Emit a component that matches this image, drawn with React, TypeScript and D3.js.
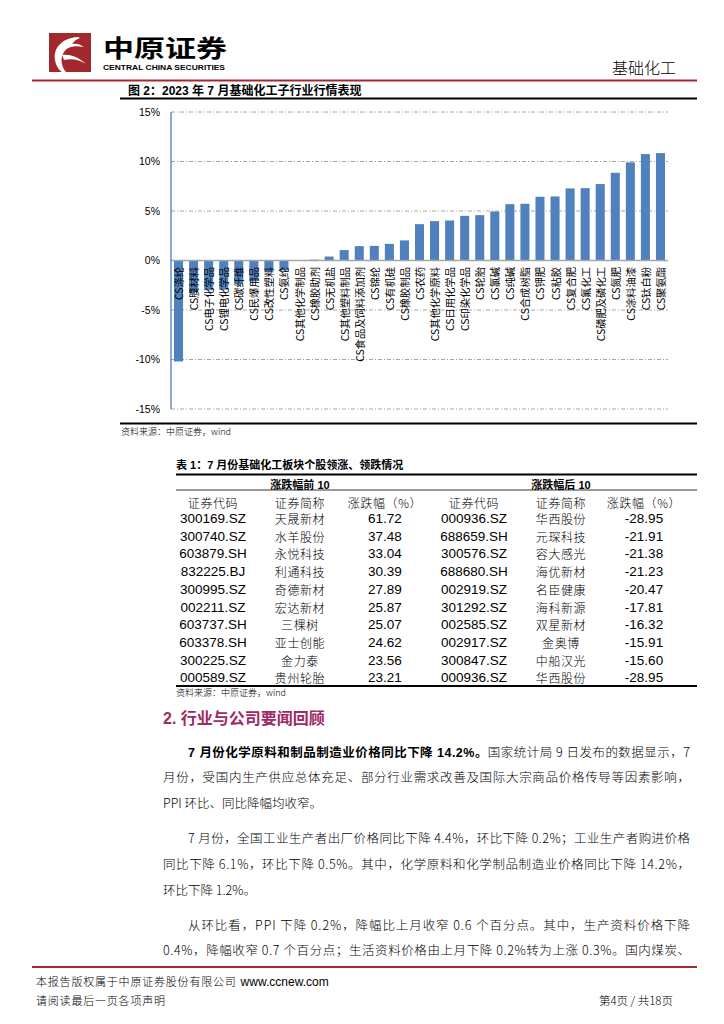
import * as d3 from 'd3';

// 2023年7月基础化工子行业涨跌幅（%）
const categories = [
  'CS涤纶', 'CS膜材料', 'CS电子化学品', 'CS锂电化学品', 'CS碳纤维', 'CS民爆用品', 'CS改性塑料', 'CS氨纶',
  'CS其他化学制品', 'CS橡胶助剂', 'CS无机盐', 'CS其他塑料制品', 'CS食品及饲料添加剂', 'CS锦纶', 'CS有机硅',
  'CS橡胶制品', 'CS农药', 'CS其他化学原料', 'CS日用化学品', 'CS印染化学品', 'CS轮胎', 'CS氯碱', 'CS纯碱',
  'CS合成树脂', 'CS钾肥', 'CS粘胶', 'CS复合肥', 'CS氟化工', 'CS磷肥及磷化工', 'CS氮肥', 'CS涂料油漆',
  'CS钛白粉', 'CS聚氨酯',
];
const changes = [
  -10.2, -3.2, -3.0, -2.95, -2.4, -2.1, -1.2, -1.0,
  0.02, 0.08, 0.4, 1.05, 1.45, 1.48, 1.68,
  2.03, 3.67, 3.98, 4.04, 4.51, 4.58, 4.95, 5.69,
  5.73, 6.44, 6.47, 7.28, 7.31, 7.72, 8.86, 9.91,
  10.75, 10.85,
];
const yTicks = [15, 10, 5, 0, -5, -10, -15];

// 表1
const tableHeaders = ['证券代码', '证券简称', '涨跌幅（%）', '证券代码', '证券简称', '涨跌幅（%）'];
const topCodes = ['300169.SZ', '300740.SZ', '603879.SH', '832225.BJ', '300995.SZ', '002211.SZ', '603737.SH', '603378.SH', '300225.SZ', '000589.SZ'];
const topNames = ['天晟新材', '水羊股份', '永悦科技', '利通科技', '奇德新材', '宏达新材', '三棵树', '亚士创能', '金力泰', '贵州轮胎'];
const topPct = ['61.72', '37.48', '33.04', '30.39', '27.89', '25.87', '25.07', '24.62', '23.56', '23.21'];
const bottomCodes = ['000936.SZ', '688659.SH', '300576.SZ', '688680.SH', '002919.SZ', '301292.SZ', '002585.SZ', '002917.SZ', '300847.SZ', '000936.SZ'];
const bottomNames = ['华西股份', '元琛科技', '容大感光', '海优新材', '名臣健康', '海科新源', '双星新材', '金奥博', '中船汉光', '华西股份'];
const bottomPct = ['-28.95', '-21.91', '-21.38', '-21.23', '-20.47', '-17.81', '-16.32', '-15.91', '-15.60', '-28.95'];

const FONT = '"Liberation Sans", Arial, "Noto Sans CJK SC", sans-serif';
const CJK = '"Noto Sans CJK SC", "Liberation Sans", sans-serif';
const RED = '#a3282e';

function App() {
  const x = d3.scaleBand<string>().domain(categories).range([171, 668]).paddingInner(0.4).paddingOuter(0.2);
  const y = d3.scaleLinear().domain([-15, 15]).range([409, 112]);
  const bw = x.bandwidth();

  const colX = [213, 300, 385, 474, 561, 644];
  const rowY = d3.range(10).map(i => 518.5 + i * 17.7);
  const rows = d3.range(10).map(i => [topCodes[i], topNames[i], topPct[i], bottomCodes[i], bottomNames[i], bottomPct[i]]);

  return (
    <svg width={724} height={1024} style={{ position: 'absolute', left: 0, top: 0, background: '#fff' }}>
      {/* 页眉 */}
      <rect x={49} y={33} width={42} height={39} fill={RED} />
      <path d="M78 37 C62 38 53 48 55 60 C56 66 59 70 62 72 L66 72 C61 66 60 58 64 52 C67 47 74 45 84 47 C80 44 76 43 72 44 C74 41 77 39 80 38 Z" fill="#fff" />
      <path d="M62 55 C70 54 78 57 86 64 C80 60 72 58 64 60 Z" fill="#fff" />
      <text x={103} y={57} fontFamily={CJK} fontWeight={700} fontSize={24} textLength={124} lengthAdjust="spacingAndGlyphs">中原证券</text>
      <text x={103} y={69.5} fontFamily={FONT} fontWeight={700} fontSize={7.5} textLength={122} lengthAdjust="spacingAndGlyphs">CENTRAL CHINA SECURITIES</text>
      <text x={676} y={74} textAnchor="end" fontFamily={CJK} fontWeight={300} fontSize={16}>基础化工</text>
      <line x1={32} x2={697} y1={80.5} y2={80.5} stroke={RED} strokeWidth={2} />

      {/* 图2 */}
      <text x={128} y={95} fontFamily={FONT} fontWeight={700} fontSize={12}>图 2：2023 年 7 月基础化工子行业行情表现</text>
      <line x1={120} x2={697} y1={98.5} y2={98.5} stroke="#000" strokeWidth={2} />

      {yTicks.filter(t => t !== 0).map(t => (
        <line key={t} x1={171} x2={668} y1={y(t)} y2={y(t)} stroke="#a6a6a6" strokeWidth={1} strokeDasharray="4 2 1 2" />
      ))}
      {yTicks.map(t => (
        <text key={t} x={160} y={y(t)} dy="0.35em" textAnchor="end" fontFamily={FONT} fontSize={10.5}>{t}%</text>
      ))}
      {categories.map((c, i) => (
        <rect key={c} x={x(c)} y={y(Math.max(0, changes[i]))} width={bw} height={Math.abs(y(changes[i]) - y(0))} fill="#4f81bd" />
      ))}
      <line x1={171} x2={668} y1={y(0)} y2={y(0)} stroke="#a6a6a6" strokeWidth={1.6} />
      <line x1={171} x2={171} y1={y(15)} y2={y(-15)} stroke="#4a7ebb" strokeWidth={1.3} />
      {categories.map(c => (
        <text key={c} transform={`translate(${(x(c) ?? 0) + bw / 2},267) rotate(-90)`} textAnchor="end" dominantBaseline="central" fontFamily={CJK} fontSize={10.3}>{c}</text>
      ))}
      <line x1={120} x2={697} y1={423.5} y2={423.5} stroke="#000" strokeWidth={2} />
      <text x={121} y={435} fontFamily={CJK} fontWeight={300} fontSize={9}>资料来源：中原证券，wind</text>

      {/* 表1 */}
      <text x={176} y={469} fontFamily={FONT} fontWeight={700} fontSize={11}>表 1：7 月份基础化工板块个股领涨、领跌情况</text>
      <line x1={176} x2={697} y1={474.5} y2={474.5} stroke="#000" strokeWidth={2} />
      <text x={300} y={485} dominantBaseline="central" textAnchor="middle" fontFamily={FONT} fontWeight={700} fontSize={11}>涨跌幅前 10</text>
      <text x={561} y={485} dominantBaseline="central" textAnchor="middle" fontFamily={FONT} fontWeight={700} fontSize={11}>涨跌幅后 10</text>
      <line x1={176} x2={697} y1={490} y2={490} stroke="#000" strokeWidth={0.8} />
      {tableHeaders.map((h, j) => (
        <text key={j} x={colX[j]} y={502} dominantBaseline="central" textAnchor="middle" fontFamily={CJK} fontWeight={300} fontSize={12} letterSpacing={0.6}>{h}</text>
      ))}
      {rows.map((r, i) => r.map((v, j) => (
        <text key={`${i}-${j}`} x={colX[j]} y={rowY[i]} dominantBaseline="central" textAnchor="middle"
          fontFamily={j % 3 === 1 ? CJK : FONT} fontWeight={j % 3 === 1 ? 300 : 400}
          fontSize={j % 3 === 1 ? 12 : 13.5} letterSpacing={j % 3 === 1 ? 0.6 : 0}>{v}</text>
      )))}
      <line x1={176} x2={697} y1={686} y2={686} stroke="#000" strokeWidth={2} />
      <text x={176} y={696} fontFamily={CJK} fontWeight={300} fontSize={9}>资料来源：中原证券，wind</text>

      {/* 正文 */}
      <text x={163} y={724} fontFamily={FONT} fontWeight={700} fontSize={16} fill="#9e2a63">2. 行业与公司要闻回顾</text>
      <g fontFamily={FONT} fontSize={12.5} fontWeight={400}>
        <text x={188} y={757} textLength={502} lengthAdjust="spacing">
          <tspan fontWeight={700}>7 月份化学原料和制品制造业价格同比下降 14.2%。</tspan>
          <tspan fontFamily={CJK} fontWeight={300}>国家统计局 9 日发布的数据显示，7</tspan>
        </text>
        <text x={163} y={782} textLength={527} lengthAdjust="spacing" fontFamily={CJK} fontWeight={300}>月份，受国内生产供应总体充足、部分行业需求改善及国际大宗商品价格传导等因素影响，</text>
        <text x={163} y={808} fontFamily={CJK} fontWeight={300}>PPI 环比、同比降幅均收窄。</text>

        <text x={188} y={843} textLength={502} lengthAdjust="spacing" fontFamily={CJK} fontWeight={300}>7 月份，全国工业生产者出厂价格同比下降 4.4%，环比下降 0.2%；工业生产者购进价格</text>
        <text x={163} y={869} textLength={527} lengthAdjust="spacing" fontFamily={CJK} fontWeight={300}>同比下降 6.1%，环比下降 0.5%。其中，化学原料和化学制品制造业价格同比下降 14.2%，</text>
        <text x={163} y={895} fontFamily={CJK} fontWeight={300}>环比下降 1.2%。</text>

        <text x={188} y={930} textLength={502} lengthAdjust="spacing" fontFamily={CJK} fontWeight={300}>从环比看，PPI 下降 0.2%，降幅比上月收窄 0.6 个百分点。其中，生产资料价格下降</text>
        <text x={163} y={955} textLength={527} lengthAdjust="spacing" fontFamily={CJK} fontWeight={300}>0.4%，降幅收窄 0.7 个百分点；生活资料价格由上月下降 0.2%转为上涨 0.3%。国内煤炭、</text>
      </g>

      {/* 页脚 */}
      <line x1={32} x2={697} y1={967} y2={967} stroke={RED} strokeWidth={2} />
      <text x={36} y={986} fontFamily={CJK} fontWeight={300} fontSize={11} letterSpacing={0.8}>本报告版权属于中原证券股份有限公司
        <tspan fontFamily={FONT} letterSpacing={0} fontSize={12} dx={4}>www.ccnew.com</tspan>
      </text>
      <text x={36} y={1005} fontFamily={CJK} fontWeight={300} fontSize={11} letterSpacing={0.8}>请阅读最后一页各项声明</text>
      <text x={673} y={1005} textAnchor="end" fontFamily={CJK} fontWeight={300} fontSize={11.5}>第4页 / 共18页</text>
    </svg>
  );
}

export default App;
